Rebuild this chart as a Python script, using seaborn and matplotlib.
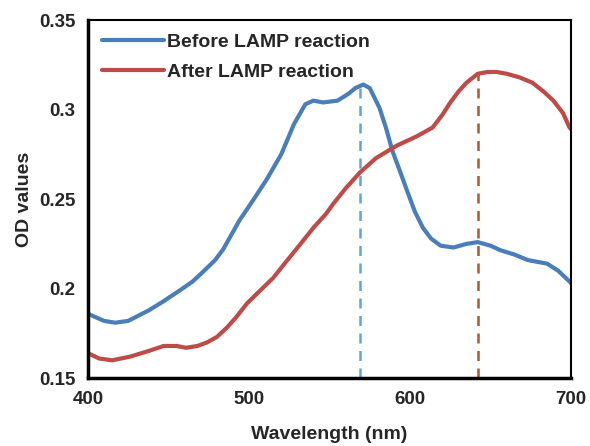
import seaborn as sns
import matplotlib.pyplot as plt
import pandas as pd

# Absorbance spectra
wl_before = [400, 405, 410, 417, 425, 438, 447, 457, 465, 471, 479, 484, 489, 494, 503, 511,
             520, 528, 535, 540, 546, 555, 562, 566, 571, 575, 581, 585, 589, 594, 598, 603,
             608, 613, 619, 627, 635, 642, 650, 656, 665, 673, 685, 692, 699, 700]
od_before = [0.186, 0.184, 0.182, 0.181, 0.182, 0.188, 0.193, 0.199, 0.204, 0.209, 0.216, 0.222,
             0.230, 0.238, 0.250, 0.261, 0.275, 0.292, 0.303, 0.305, 0.304, 0.305, 0.309, 0.312,
             0.314, 0.312, 0.301, 0.290, 0.277, 0.265, 0.255, 0.243, 0.234, 0.228, 0.224, 0.223,
             0.225, 0.226, 0.224, 0.2215, 0.219, 0.216, 0.214, 0.210, 0.204, 0.203]

wl_after = [400, 407, 415, 426, 437, 447, 455, 461, 468, 474, 480, 486, 492, 499, 507,
            515, 523, 532, 540, 548, 552, 560, 569, 579, 592, 604, 614, 620, 625, 630,
            635, 642, 648, 654, 660, 668, 676, 683, 689, 695, 699, 700]
od_after = [0.164, 0.161, 0.160, 0.162, 0.165, 0.168, 0.168, 0.167, 0.168, 0.170, 0.173, 0.178,
            0.184, 0.192, 0.199, 0.206, 0.215, 0.225, 0.234, 0.242, 0.247, 0.256, 0.265, 0.273,
            0.280, 0.285, 0.290, 0.297, 0.304, 0.310, 0.315, 0.320, 0.321, 0.321, 0.320, 0.318,
            0.315, 0.310, 0.305, 0.298, 0.290, 0.289]

peak_before = 569
peak_after = 642
peak_od_before = 0.313
peak_od_after = 0.321

df = pd.concat([
    pd.DataFrame({"Wavelength": wl_before, "OD": od_before, "Sample": "Before LAMP reaction"}),
    pd.DataFrame({"Wavelength": wl_after, "OD": od_after, "Sample": "After LAMP reaction"}),
])

sns.set_style("white")
plt.rcParams["font.family"] = ["Liberation Sans", "DejaVu Sans"]

fig = plt.figure(figsize=(5.9, 4.46), dpi=100)
ax = fig.add_axes([0.149, 0.152, 0.819, 0.803])

sns.lineplot(data=df, x="Wavelength", y="OD", hue="Sample",
             palette={"Before LAMP reaction": "#4A7EBB", "After LAMP reaction": "#BE4B48"},
             linewidth=3, ax=ax)

ax.plot([peak_before, peak_before], [0.15, peak_od_before], ls=(0, (4, 3)), color="#5DA5E0", lw=1.8)
ax.plot([peak_after, peak_after], [0.15, peak_od_after], ls=(0, (4, 3)), color="#B0582C", lw=1.8)

ax.set_xlim(400, 700)
ax.set_ylim(0.15, 0.35)
ax.set_xticks([400, 500, 600, 700])
ax.set_yticks([0.15, 0.2, 0.25, 0.3, 0.35])
ax.set_yticklabels(["0.15", "0.2", "0.25", "0.3", "0.35"])
ax.set_xlabel("Wavelength (nm)", fontsize=14, fontweight="bold", labelpad=13)
ax.set_ylabel("OD values", fontsize=14, fontweight="bold", labelpad=4)
ax.tick_params(axis="both", direction="out", length=4, width=2.5, labelsize=13.5, pad=5)
for lab in ax.get_xticklabels() + ax.get_yticklabels():
    lab.set_fontweight("bold")

for side in ["left", "bottom"]:
    ax.spines[side].set_linewidth(2.5)
for side in ["top", "right"]:
    ax.spines[side].set_linewidth(1.5)
for s in ax.spines.values():
    s.set_color("black")

leg = ax.legend(loc="upper left", frameon=False, handlelength=3.2, handletextpad=0.15,
                prop={"weight": "bold", "size": 14}, bbox_to_anchor=(0.0, 1.0),
                borderaxespad=0.3, labelspacing=0.6)

fig.savefig("out.png", dpi=100)
